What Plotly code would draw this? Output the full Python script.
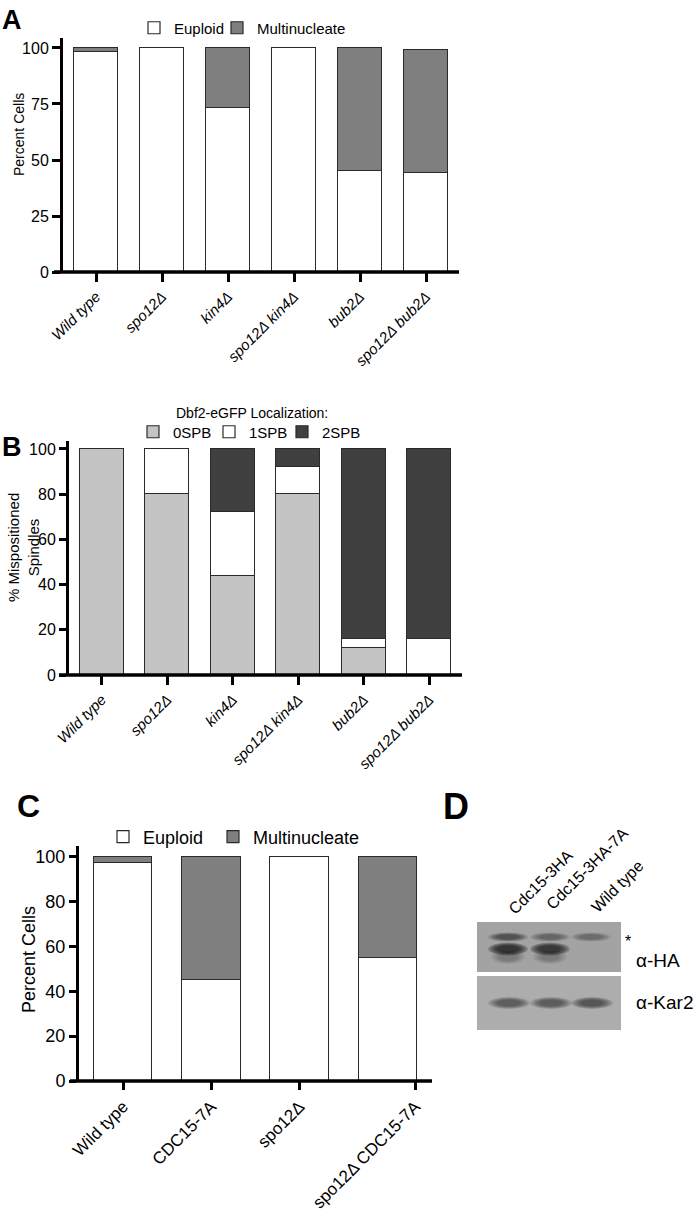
import plotly.graph_objects as go

W, H = 694, 1209


def X(px):
    return px / W


def Y(py):
    return 1 - py / H


# ---------------- data ----------------
a_categories = ["Wild type", "spo12Δ", "kin4Δ", "spo12Δ kin4Δ", "bub2Δ", "spo12Δ bub2Δ"]
a_euploid = [98, 100, 73, 100, 45, 44]
a_multinucleate = [2, 0, 27, 0, 55, 55]

b_categories = ["Wild type", "spo12Δ", "kin4Δ", "spo12Δ kin4Δ", "bub2Δ", "spo12Δ bub2Δ"]
b_0spb = [100, 80, 44, 80, 12, 0]
b_1spb = [0, 20, 28, 12, 4, 16]
b_2spb = [0, 0, 28, 8, 84, 84]

c_categories = ["Wild type", "CDC15-7A", "spo12Δ", "spo12Δ CDC15-7A"]
c_euploid = [97, 45, 100, 55]
c_multinucleate = [3, 55, 0, 45]

blot_lanes = ["Cdc15-3HA", "Cdc15-3HA-7A", "Wild type"]
ha_star_band = [0.55, 0.4, 0.35]
ha_band = [0.95, 0.9, 0.0]
kar2_band = [0.5, 0.5, 0.55]

NARROW = "Liberation Sans Narrow, Arial Narrow, Liberation Sans, Arial, sans-serif"
ARIAL = "Liberation Sans, Arial, sans-serif"

fig = go.Figure()

line = dict(color="#2a2a2a", width=1.2)

# ---------------- panel A ----------------
ax = list(range(len(a_categories)))
fig.add_bar(x=ax, y=a_euploid, name="Euploid", marker=dict(color="white", line=line),
            width=0.667, xaxis="x", yaxis="y", legend="legend")
fig.add_bar(x=ax, y=a_multinucleate, name="Multinucleate", marker=dict(color="#7f7f7f", line=line),
            width=0.667, xaxis="x", yaxis="y", legend="legend2")

# ---------------- panel B ----------------
bx = list(range(len(b_categories)))
fig.add_bar(x=bx, y=b_0spb, name="0SPB", marker=dict(color="#c4c4c4", line=line),
            width=0.67, xaxis="x2", yaxis="y2", legend="legend3")
fig.add_bar(x=bx, y=b_1spb, name="1SPB", marker=dict(color="white", line=line),
            width=0.67, xaxis="x2", yaxis="y2", legend="legend4")
fig.add_bar(x=bx, y=b_2spb, name="2SPB", marker=dict(color="#404040", line=line),
            width=0.67, xaxis="x2", yaxis="y2", legend="legend5")

# ---------------- panel C ----------------
cx = list(range(len(c_categories)))
fig.add_bar(x=cx, y=c_euploid, name="Euploid", marker=dict(color="white", line=line),
            width=0.665, xaxis="x3", yaxis="y3", legend="legend6")
fig.add_bar(x=cx, y=c_multinucleate, name="Multinucleate", marker=dict(color="#7f7f7f", line=line),
            width=0.665, xaxis="x3", yaxis="y3", legend="legend7")


def xax(anchor, domain_px, rng, tickvals, ticktext, font, ticklen=9):
    return dict(anchor=anchor, domain=[X(domain_px[0]), X(domain_px[1])], range=rng,
                tickmode="array", tickvals=tickvals, ticktext=ticktext,
                tickangle=-45, ticks="outside", ticklen=ticklen, tickwidth=3,
                tickcolor="black", showline=False, showgrid=False, zeroline=False,
                tickfont=font, fixedrange=True, automargin=False)


def yax(anchor, domain_px, rng, tickvals, font, ticklen=8, tickwidth=3):
    return dict(anchor=anchor, domain=[Y(domain_px[1]), Y(domain_px[0])], range=rng,
                tickmode="array", tickvals=tickvals, ticks="outside",
                ticklen=ticklen, tickwidth=tickwidth, tickcolor="black",
                showline=True, linewidth=3, linecolor="black",
                showgrid=False, zeroline=False, tickfont=font, fixedrange=True,
                automargin=False)


def leg(xp, yp, size, family):
    return dict(orientation="h", x=X(xp), xanchor="left", y=Y(yp), yanchor="middle",
                font=dict(family=family, size=size, color="black"),
                bgcolor="rgba(0,0,0,0)", borderwidth=0)


a_font = dict(family=NARROW, size=15, color="black")
c_font = dict(family=ARIAL, size=17, color="black")

layout = dict(
    width=W, height=H, margin=dict(l=0, r=0, t=0, b=0, autoexpand=False),
    paper_bgcolor="white", plot_bgcolor="white", barmode="stack", bargap=0,
    showlegend=True,
    xaxis=xax("y", (63, 459), [-0.5, 5.5], ax, ["<i>%s</i>" % c for c in a_categories], a_font),
    yaxis=yax("x", (38, 272), [0, 104.46], [0, 25, 50, 75, 100], dict(family=NARROW, size=16, color="black")),
    xaxis2=xax("y2", (69, 462), [-0.5, 5.5], bx, ["<i>%s</i>" % c for c in b_categories], a_font),
    yaxis2=yax("x2", (441, 675), [0, 103.5], [0, 20, 40, 60, 80, 100], dict(family=NARROW, size=16, color="black"), ticklen=7),
    xaxis3=xax("y3", (79, 432), [-0.5, 3.5], [0, 1, 2, 3.31], c_categories, c_font, ticklen=8),
    yaxis3=yax("x3", (846, 1081), [0, 104.7], [0, 20, 40, 60, 80, 100], dict(family=ARIAL, size=18, color="black"), ticklen=7),
    xaxis4=dict(anchor="y4", domain=[X(477), X(621)], range=[0, 144], visible=False, fixedrange=True),
    yaxis4=dict(anchor="x4", domain=[Y(1030), Y(922)], range=[108, 0], visible=False, fixedrange=True),
    legend=leg(134, 28, 15, NARROW),
    legend2=leg(217, 28, 15, NARROW),
    legend3=leg(133, 432, 15, NARROW),
    legend4=leg(209, 432, 15, NARROW),
    legend5=leg(282, 432, 15, NARROW),
    legend6=leg(103, 837, 18, ARIAL),
    legend7=leg(213, 837, 18, ARIAL),
)
fig.update_layout(**layout)

shapes = []
# x-axis lines that overshoot to the left of the y axis
for xr, yr, x0, dstart, w in (("x", "y", 54, 63, 396), ("x2", "y2", 59, 69, 393), ("x3", "y3", 70, 79, 353)):
    shapes.append(dict(type="line", xref=xr + " domain", yref=yr + " domain",
                       x0=(x0 - dstart) / w, x1=1, y0=0, y1=0,
                       line=dict(color="black", width=3.5)))

# ---------------- panel D: blot drawing ----------------
shapes.append(dict(type="rect", xref="x4", yref="y4", x0=0, x1=144, y0=0, y1=50,
                   fillcolor="#a3a3a3", line=dict(width=0), layer="below"))
shapes.append(dict(type="rect", xref="x4", yref="y4", x0=0, x1=144, y0=54, y1=108,
                   fillcolor="#adadad", line=dict(width=0), layer="below"))

lane_centers = [31, 73, 114]
lane_halfwidth = 19


def band(cx, cy, hw, hh, strength, color="20,20,20"):
    out = []
    steps = 6
    for k in range(steps):
        f = 1 - k / steps * 0.55
        out.append(dict(type="circle", xref="x4", yref="y4",
                        x0=cx - hw * f, x1=cx + hw * f, y0=cy - hh * f, y1=cy + hh * f,
                        fillcolor="rgba(%s,%.3f)" % (color, strength * 0.22),
                        line=dict(width=0), layer="below"))
    return out


for i, c in enumerate(lane_centers):
    if ha_star_band[i] > 0:
        shapes += band(c, 15, lane_halfwidth + 1, 4.5, ha_star_band[i])
    if ha_band[i] > 0:
        shapes += band(c, 27, lane_halfwidth + 1, 6.5, ha_band[i])
        shapes += band(c, 35, lane_halfwidth - 2, 7, ha_band[i] * 0.25)
    if kar2_band[i] > 0:
        shapes += band(c + 1, 81, lane_halfwidth + 2, 6, kar2_band[i])

fig.update_layout(shapes=shapes)

ann = []


def text(t, xp, yp, size, family=ARIAL, xanchor="center", yanchor="middle", angle=0):
    ann.append(dict(text=t, x=X(xp), y=Y(yp), xref="paper", yref="paper", xanchor=xanchor,
                    yanchor=yanchor, textangle=angle, showarrow=False,
                    font=dict(family=family, size=size, color="black")))


# panel letters
text("<b>A</b>", 0, 20, 27, xanchor="left")
text("<b>B</b>", 0, 447, 27, xanchor="left")
text("<b>C</b>", 15, 806, 32, xanchor="left")
text("<b>D</b>", 441, 806, 36, xanchor="left")

# y-axis titles
text("Percent Cells", 19, 135, 14, family=NARROW, angle=-90)
text("% Mispositioned<br>Spindles", 23, 548, 15, family=NARROW, angle=-90)
text("Percent Cells", 29, 960, 18, angle=-90)

# panel B legend title
text("Dbf2-eGFP Localization:", 252, 413, 14, family=NARROW)

# blot labels
for name, (cxp, cyp) in zip(blot_lanes, [(540, 882), (587, 868), (617, 886)]):
    text(name, cxp, cyp, 16, angle=-45)
text("*", 628, 941, 16)
text("α-HA", 634, 961, 19, xanchor="left")
text("α-Kar2", 634, 1003, 19, xanchor="left")

fig.update_layout(annotations=ann)

fig.write_html("out.html", config={"displayModeBar": False},
               post_script="document.body.style.margin='0px';document.body.style.overflow='hidden';")
